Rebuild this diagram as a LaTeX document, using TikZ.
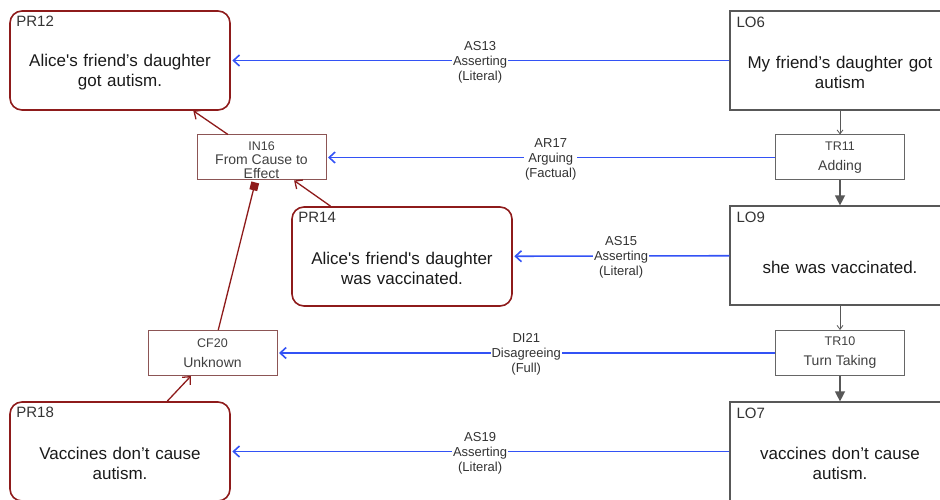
\documentclass[tikz,border=0pt]{standalone}
\usepackage{fontspec}
\setmainfont{Liberation Sans}
\usetikzlibrary{positioning, arrows.meta}
\definecolor{propred}{HTML}{8E1B1B}
\definecolor{infred}{HTML}{8C5555}
\definecolor{locgray}{HTML}{585858}
\definecolor{transgray}{HTML}{666666}
\definecolor{illocblue}{HTML}{3352F5}
\definecolor{textdark}{HTML}{1A1A1A}

\tikzset{
  bigbox/.style={minimum width=220pt, minimum height=99pt, text width=200pt,
    align=center, inner sep=0pt, font=\fontsize{17}{20}\selectfont,
    text=textdark},
  propbox/.style={bigbox, draw=propred, line width=1.6pt, rounded corners=12pt},
  locbox/.style={bigbox, draw=locgray, line width=1.2pt},
  idlabel/.style={label={[anchor=north west, inner sep=0pt, xshift=7pt, yshift=-6pt,
    font=\fontsize{15}{15}\selectfont, text=black!80]north west:#1}},
  smallbox/.style={minimum width=129pt, minimum height=45pt, inner sep=0pt,
    align=center, line width=1pt, text=black!75},
  transbox/.style={smallbox, draw=transgray, font=\fontsize{14}{20}\selectfont},
  infbox/.style={smallbox, draw=infred, font=\fontsize{14}{14}\selectfont},
  illoc/.style={draw=illocblue, line width=1.6pt,
    -{Straight Barb[length=6pt, width=11pt]}, shorten >=1.5pt},
  edgelabel/.style={fill=white, inner xsep=1pt, inner ysep=0pt, align=center,
    text=black!80, font=\fontsize{13}{15}\selectfont, yshift=-1.5pt},
  support/.style={draw=propred, line width=1.3pt,
    -{Straight Barb[length=6pt, width=11pt]}},
}

\begin{document}
\begin{tikzpicture}[x=1pt, y=-1pt]
  \useasboundingbox (0,0) rectangle (940,500);

  % propositions (left)
  \node[propbox, idlabel=PR12] (PR12) at (120,60.5)
    {\mbox{}\\[16pt]Alice\textquotesingle s friend's daughter\\got autism.};
  \node[propbox, idlabel=PR14] (PR14) at (402,256.5)
    {\mbox{}\\[16pt]Alice\textquotesingle s friend\textquotesingle s daughter\\was vaccinated.};
  \node[propbox, idlabel=PR18] (PR18) at (120,451.5)
    {\mbox{}\\[16pt]Vaccines don't cause\\autism.};

  % locutions (right)
  \node[locbox, idlabel=LO6] (LO6) at (840,60.5)
    {\mbox{}\\[16pt]My friend's daughter got\\autism};
  \node[locbox, idlabel=LO9] (LO9) at (840,255.5)
    {\mbox{}\\[16pt]she was vaccinated.};
  \node[locbox, idlabel=LO7] (LO7) at (840,451.5)
    {\mbox{}\\[16pt]vaccines don't cause\\autism.};

  % transitions
  \node[transbox] (TR11) at (840,157.5)
    {{\fontsize{12.5}{20}\selectfont TR11}\\Adding};
  \node[transbox] (TR10) at (840,353)
    {{\fontsize{12.5}{20}\selectfont TR10}\\Turn Taking};

  % inference and conflict
  \node[infbox] (IN16) at (261.5,157.5)
    {\rule{0pt}{15pt}{\fontsize{12.5}{14}\selectfont IN16}\\From Cause to\\Effect};
  \node[infbox, font=\fontsize{14}{20}\selectfont] (CF20) at (212.5,353)
    {{\fontsize{12.5}{20}\selectfont CF20}\\Unknown};

  % dialogue flow
  \draw[draw=locgray, line width=0.8pt, -{Straight Barb[length=4pt, width=6pt]}]
    (LO6) -- (TR11);
  \draw[draw=locgray, line width=1.3pt, -{Triangle[length=10pt, width=10pt]}]
    (TR11) -- (LO9);
  \draw[draw=locgray, line width=0.8pt, -{Straight Barb[length=4pt, width=6pt]}]
    (LO9) -- (TR10);
  \draw[draw=locgray, line width=1.3pt, -{Triangle[length=10pt, width=10pt]}]
    (TR10) -- (LO7);

  % illocutions
  \draw[illoc] (LO6) -- (PR12) node[midway, edgelabel] {AS13\\Asserting\\(Literal)};
  \draw[illoc] (TR11) -- (IN16) node[midway, edgelabel] {AR17\\Arguing\\(Factual)};
  \draw[illoc] (LO9) -- (PR14) node[midway, edgelabel] {AS15\\Asserting\\(Literal)};
  \draw[illoc] (TR10) -- (CF20) node[midway, edgelabel] {DI21\\Disagreeing\\(Full)};
  \draw[illoc] (LO7) -- (PR18) node[midway, edgelabel] {AS19\\Asserting\\(Literal)};

  % argument structure
  \draw[support] (IN16) -- (PR12);
  \draw[support] (PR14) -- (IN16);
  \draw[support] (PR18) -- (CF20);
  \draw[draw=propred, line width=1.3pt, -{Square[length=8pt, width=8pt]},
    shorten >=2pt] (CF20) -- (IN16);
\end{tikzpicture}
\end{document}
